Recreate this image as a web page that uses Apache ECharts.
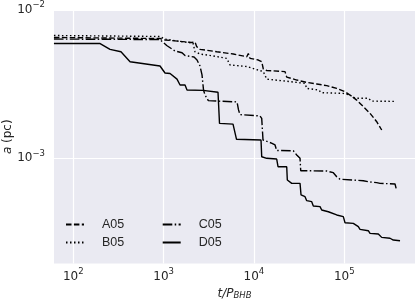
<!DOCTYPE html>
<html><head><meta charset="utf-8">
<script src="https://cdn.jsdelivr.net/npm/echarts@6/dist/echarts.min.js"></script>
<style>html,body{margin:0;padding:0;background:#fff}#c{width:415px;height:307px}</style>
</head><body><div id="c"></div>
<script>
// t / P_BHB  vs  a (pc)
const A05 = [[61,6.53e-3],[912,6.42e-3],[1036,6.28e-3],[2047,6.04e-3],[2227,6.08e-3],[2326,5.66e-3],[2530,5.43e-3],[3873,5.23e-3],[5915,5.05e-3],[8326,4.84e-3],[8670,5.09e-3],[9053,4.72e-3],[11190,4.60e-3],[12200,4.48e-3],[12710,4.00e-3],[13860,3.91e-3],[22100,3.84e-3],[23080,3.53e-3],[29790,3.37e-3],[38440,3.25e-3],[49600,3.17e-3],[64020,3.09e-3],[82590,2.96e-3],[102100,2.81e-3],[115900,2.67e-3],[137500,2.47e-3],[162700,2.23e-3],[193100,2.01e-3],[229100,1.765e-3],[260200,1.552e-3]];
const B05 = [[61,6.73e-3],[912,6.63e-3],[1036,6.37e-3],[1520,6.13e-3],[2116,5.99e-3],[2227,5.23e-3],[2530,5.05e-3],[3551,4.90e-3],[4998,4.72e-3],[5436,4.26e-3],[8326,4.16e-3],[12710,3.84e-3],[13860,3.42e-3],[25110,3.29e-3],[36810,3.20e-3],[38440,2.96e-3],[51670,2.89e-3],[56350,2.77e-3],[97730,2.74e-3],[115900,2.67e-3],[131700,2.54e-3],[184900,2.54e-3],[201600,2.43e-3],[365300,2.42e-3]];
const C05 = [[61,6.37e-3],[912,6.32e-3],[1082,5.76e-3],[1337,5.29e-3],[1599,5.15e-3],[1726,4.93e-3],[2172,4.82e-3],[2344,4.60e-3],[2530,4.19e-3],[2662,3.65e-3],[2766,2.89e-3],[2873,2.67e-3],[3126,2.45e-3],[4035,2.43e-3],[6501,2.40e-3],[6754,2.12e-3],[7017,1.97e-3],[11680,1.93e-3],[12200,1.86e-3],[12610,1.329e-3],[15870,1.262e-3],[17130,1.230e-3],[17880,1.129e-3],[27320,1.125e-3],[29790,1.053e-3],[32410,1.0e-3],[32990,8.25e-4],[64020,8.21e-4],[75750,8.00e-4],[82590,7.51e-4],[89850,7.22e-4],[126100,7.14e-4],[162700,7.06e-4],[184900,6.95e-4],[229100,6.85e-4],[249200,6.78e-4],[365300,6.71e-4],[381400,6.05e-4]];
const D05 = [[61,5.94e-3],[198,5.94e-3],[255,5.43e-3],[337,5.23e-3],[425,4.48e-3],[912,4.19e-3],[1036,3.76e-3],[1178,3.73e-3],[1407,3.42e-3],[1520,3.12e-3],[1726,3.12e-3],[1816,2.89e-3],[2731,2.87e-3],[2873,2.81e-3],[4002,2.79e-3],[4159,1.72e-3],[5869,1.70e-3],[6418,1.343e-3],[11985,1.329e-3],[12200,1.025e-3],[13860,1.0e-3],[17880,0.989e-3],[18490,8.78e-4],[23080,8.78e-4],[23440,7.14e-4],[26220,6.78e-4],[32410,6.78e-4],[33250,5.66e-4],[36810,5.51e-4],[38440,5.18e-4],[43660,5.10e-4],[45480,4.77e-4],[53950,4.72e-4],[56350,4.48e-4],[66680,4.36e-4],[69630,4.26e-4],[82590,4.15e-4],[86040,4.04e-4],[97730,4.04e-4],[102100,3.68e-4],[126100,3.64e-4],[131700,3.55e-4],[143300,3.46e-4],[149600,3.32e-4],[184900,3.25e-4],[193100,3.12e-4],[238600,3.09e-4],[260200,2.93e-4],[321500,2.89e-4],[349800,2.81e-4],[415000,2.78e-4]];
const seriesNames = ['A05','B05','C05','D05'];
const xTickPowers = [2,3,4,5];
const yTickPowers = [-3,-2];
const xRange = [61.1, 6.08e5];
const yRange = [1.953e-4, 1e-2];

const dashes = {A05:[5.5,2.4], B05:[1.5,2.5], C05:[9.6,2.4,1.5,2.4], D05:'solid'};
const dataMap = {A05, B05, C05, D05};
const TXT = '#262626';
function powLabel(v, powers) {
  const e = Math.log10(v), r = Math.round(e);
  if (Math.abs(e - r) > 1e-6 || powers.indexOf(r) < 0) return '';
  return '{b|10}{s|' + String(r).replace('-', '\u2212') + '}';
}
const rich = {
  b: {fontFamily: 'DejaVu Sans', fontSize: 12, lineHeight: 12, color: TXT},
  s: {fontFamily: 'DejaVu Sans', fontSize: 8.5, lineHeight: 8.5, padding: [0,0,10,0], color: TXT}
};
const legendText = {fontFamily: 'Liberation Sans', fontSize: 12.5, color: TXT, padding: [0,0,0,13]};
const chart = echarts.init(document.getElementById('c'), null, {renderer: 'canvas'});
chart.setOption({
  animation: false,
  grid: {left: 54, right: 0, top: 10, bottom: 43.5, containLabel: false, outerBoundsMode: 'none',
         show: true, backgroundColor: '#EAEAF2', borderWidth: 0},
  xAxis: {
    type: 'log', logBase: 10, min: xRange[0], max: xRange[1],
    axisLine: {show: false}, axisTick: {show: false},
    splitLine: {show: true, showMinLine: false, showMaxLine: false, lineStyle: {color: '#fff', width: 1.2}},
    axisLabel: {margin: 7, formatter: v => powLabel(v, xTickPowers), rich, showMinLabel: true, showMaxLabel: true},
    name: '{i|t/P}{sub|BHB}', nameLocation: 'middle', nameGap: 25, nameMoveOverlap: false,
    nameTextStyle: {rich: {
      i: {fontFamily: 'DejaVu Sans', fontStyle: 'italic', fontSize: 12, lineHeight: 14, padding: [0,0,3,0], color: TXT},
      sub: {fontFamily: 'DejaVu Sans', fontStyle: 'italic', fontSize: 8.5, lineHeight: 10, color: TXT}
    }}
  },
  yAxis: {
    type: 'log', logBase: 10, min: yRange[0], max: yRange[1],
    axisLine: {show: false}, axisTick: {show: false},
    splitLine: {show: true, showMinLine: false, showMaxLine: false, lineStyle: {color: '#fff', width: 1.2}},
    axisLabel: {margin: 9, formatter: v => powLabel(v, yTickPowers), rich},
    name: '{i|a} (pc)', nameLocation: 'middle', nameGap: 40, nameMoveOverlap: false,
    nameTextStyle: {fontFamily: 'DejaVu Sans', fontSize: 12, color: TXT, rich: {
      i: {fontFamily: 'DejaVu Sans', fontStyle: 'italic', fontSize: 12, color: TXT}
    }}
  },
  legend: [
    {data: ['A05','B05'], orient: 'vertical', left: 65, top: 218, padding: 0, itemWidth: 18, itemHeight: 14, itemGap: 5,
     itemStyle: {opacity: 0, borderWidth: 0}, textStyle: legendText},
    {data: ['C05','D05'], orient: 'vertical', left: 161.7, top: 218, padding: 0, itemWidth: 18, itemHeight: 14, itemGap: 5,
     itemStyle: {opacity: 0, borderWidth: 0}, textStyle: legendText}
  ],
  series: seriesNames.map(n => ({
    name: n, type: 'line', data: dataMap[n], showSymbol: false, symbol: 'none',
    lineStyle: {color: '#000', width: 1.4, type: dashes[n]}, itemStyle: {color: '#000'}
  }))
});
</script></body></html>
